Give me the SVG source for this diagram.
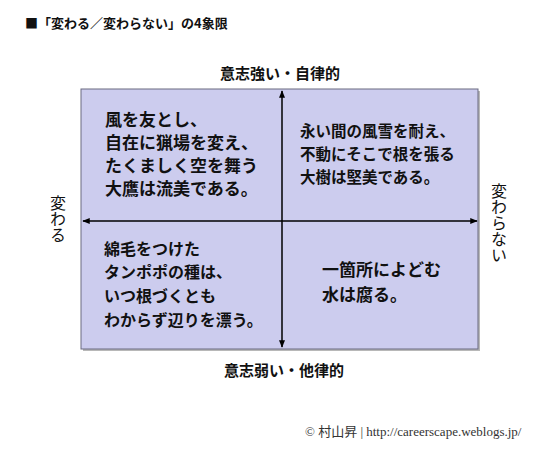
<svg xmlns="http://www.w3.org/2000/svg" width="550" height="457" viewBox="0 0 550 457">
<defs>
<style>
.t{font-family:"Noto Sans CJK JP","Liberation Sans",sans-serif;font-weight:bold;fill:#111}
.lab{font-family:"Noto Sans CJK JP","Liberation Sans",sans-serif;font-weight:bold;font-size:15px;fill:#111}
.side{font-family:"Noto Sans CJK JP","Liberation Sans",sans-serif;font-size:16px;fill:#111;writing-mode:vertical-rl;text-orientation:upright}
.ax{stroke:#000;stroke-width:1.5;fill:none;marker-start:url(#ah);marker-end:url(#ah)}
</style>
<marker id="ah" viewBox="0 0 10 10" refX="9" refY="5" markerWidth="5" markerHeight="5" orient="auto-start-reverse" markerUnits="strokeWidth">
<path d="M0,1 L10,5 L0,9 z" fill="#000"/>
</marker>
</defs>
<rect width="550" height="457" fill="#fff"/>
<text x="25" y="28" class="t" style="font-size:13px">■「変わる／変わらない」の4象限</text>
<g id="matrix">
<rect x="83" y="91" width="397" height="260" fill="#888" opacity="0.6"/>
<rect x="81" y="89" width="397" height="260" fill="#ccccee" stroke="#6a6a80" stroke-width="1"/>
</g>
<g id="connectors">
<line class="ax" x1="83" y1="221" x2="477" y2="221"/>
<line class="ax" x1="282" y1="347" x2="282" y2="91"/>
</g>
<g id="top-label"><text x="280" y="79" class="lab" text-anchor="middle">意志強い・自律的</text></g>
<g id="bottom-label"><text x="284" y="376" class="lab" text-anchor="middle">意志弱い・他律的</text></g>
<g id="left-label"><text class="side" x="58" y="195">変わる</text></g>
<g id="right-label"><text class="side" x="499" y="183">変わらない</text></g>
<g id="q1"><text class="t" style="font-size:17px"><tspan x="105" y="126">風を友とし、</tspan><tspan x="105" y="149">自在に猟場を変え、</tspan><tspan x="105" y="172">たくましく空を舞う</tspan><tspan x="105" y="195">大鷹は流美である。</tspan></text></g>
<g id="q2"><text class="t" style="font-size:15.5px"><tspan x="300" y="137">永い間の風雪を耐え、</tspan><tspan x="300" y="160">不動にそこで根を張る</tspan><tspan x="300" y="183">大樹は堅美である。</tspan></text></g>
<g id="q3"><text class="t" style="font-size:16px"><tspan x="104" y="255">綿毛をつけた</tspan><tspan x="104" y="278">タンポポの種は、</tspan><tspan x="104" y="302">いつ根づくとも</tspan><tspan x="104" y="326">わからず辺りを漂う。</tspan></text></g>
<g id="q4"><text class="t" style="font-size:17px"><tspan x="322" y="276">一箇所によどむ</tspan><tspan x="322" y="301">水は腐る。</tspan></text></g>
<text x="305" y="436" style="font-family:'Liberation Serif','Noto Sans CJK JP',serif;font-size:13px;fill:#333">© 村山昇 | http://careerscape.weblogs.jp/</text>
</svg>
